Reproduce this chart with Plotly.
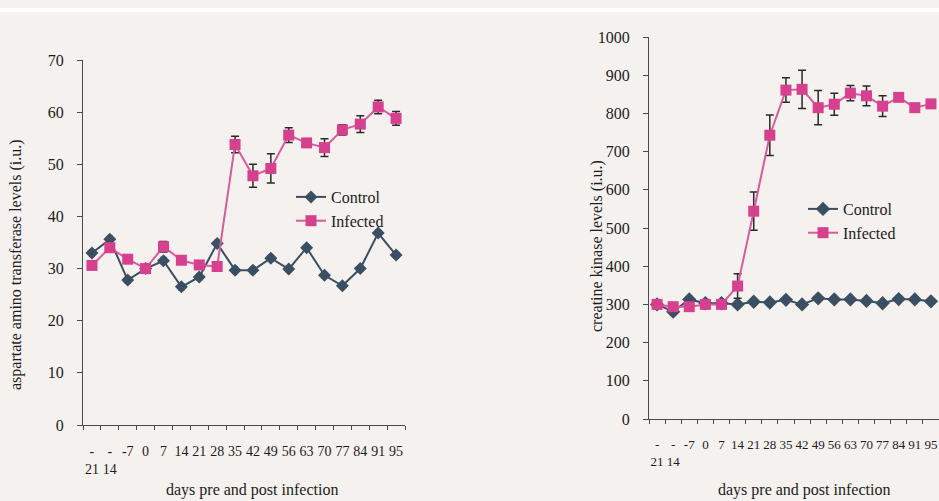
import plotly.graph_objects as go

# Sampling days relative to infection (negative values are pre-infection)
days = ["-<br>21", "-<br>14", "-7", "0", "7", "14", "21", "28", "35", "42",
        "49", "56", "63", "70", "77", "84", "91", "95"]

# Aspartate amino transferase (i.u.)
ast_control = [33.0, 35.6, 27.8, 30.0, 31.5, 26.5, 28.4, 34.8, 29.7, 29.7,
               32.0, 29.9, 34.0, 28.7, 26.7, 30.0, 36.8, 32.6]
ast_control_err = [0.6, 0.6, 0.6, 0.5, 0.6, 0.6, 0.6, 0.6, 0.6, 0.6,
                   0.5, 0.5, 0.5, 0.5, 0.5, 0.5, 0.6, 0.6]
ast_infected = [30.6, 34.0, 31.8, 30.0, 34.2, 31.6, 30.7, 30.4, 53.8, 47.8,
                49.2, 55.6, 54.1, 53.2, 56.6, 57.7, 61.0, 58.8]
ast_infected_err = [0.5, 0.5, 0.5, 0.5, 1.0, 0.5, 0.5, 0.5, 1.6, 2.2,
                    2.8, 1.4, 0.8, 1.7, 1.0, 1.6, 1.3, 1.3]

# Creatine kinase (i.u.)
ck_control = [300, 281, 313, 303, 303, 300, 307, 305, 312, 300,
              316, 313, 313, 309, 303, 314, 313, 308]
ck_infected = [300, 294, 294, 300, 300, 348, 544, 743, 861, 863,
               815, 824, 853, 846, 819, 842, 815, 825]
ck_infected_err = [5, 5, 5, 5, 5, 32, 50, 53, 32, 50,
                   45, 29, 20, 26, 27, 5, 5, 5]

W, H = 939, 501
BG = "#f4f1ee"
CONTROL = "#3b4f63"
INFECTED = "#d6408e"
INFECTED_LINE = "#d95a9e"
AXIS = "#4a4a4a"
TEXT = "#1c1c1c"
FONT = "Liberation Serif"

# The page sits 8px below the top of the window and is shown at 484/501 of
# its height, so vertical positions are given in window pixels and mapped back.
TOP_OFFSET = 8
V_SCALE = 484 / 501


def px(x):
    return x / W


def py(y):
    return 1 - ((y - TOP_OFFSET) / V_SCALE) / H


fig = go.Figure()

# Left panel: AST
fig.add_trace(go.Scatter(
    x=days, y=ast_control, name="Control", mode="lines+markers",
    line=dict(color=CONTROL, width=2),
    marker=dict(symbol="diamond", size=10, color=CONTROL),
    error_y=dict(type="data", array=ast_control_err, color="#2a2a2a", thickness=1.5, width=3),
    xaxis="x", yaxis="y", legend="legend"))
fig.add_trace(go.Scatter(
    x=days, y=ast_infected, name="Infected", mode="lines+markers",
    line=dict(color=INFECTED_LINE, width=2),
    marker=dict(symbol="square", size=11, color=INFECTED),
    error_y=dict(type="data", array=ast_infected_err, color="#2a2a2a", thickness=1.5, width=4),
    xaxis="x", yaxis="y", legend="legend"))

# Right panel: CK
fig.add_trace(go.Scatter(
    x=days, y=ck_control, name="Control", mode="lines+markers",
    line=dict(color=CONTROL, width=2),
    marker=dict(symbol="diamond", size=11, color=CONTROL),
    xaxis="x2", yaxis="y2", legend="legend2"))
fig.add_trace(go.Scatter(
    x=days, y=ck_infected, name="Infected", mode="lines+markers",
    line=dict(color=INFECTED_LINE, width=2),
    marker=dict(symbol="square", size=11, color=INFECTED),
    error_y=dict(type="data", array=ck_infected_err, color="#2a2a2a", thickness=1.5, width=4),
    xaxis="x2", yaxis="y2", legend="legend2"))

xcommon = dict(type="category", range=[-0.5, 17.5], showline=True, linecolor=AXIS,
               linewidth=1.3, ticks="outside", tickson="boundaries", ticklen=4,
               tickcolor=AXIS, showgrid=False, zeroline=False, fixedrange=True,
               tickmode="linear", tick0=0, dtick=1, tickangle=0,
               ticklabelstandoff=13)
ycommon = dict(showline=True, linecolor=AXIS, linewidth=1.3, ticks="outside",
               ticklen=5, tickcolor=AXIS, showgrid=False, zeroline=False,
               ticklabelstandoff=10, tickfont=dict(size=16, color=TEXT, family=FONT))

fig.update_layout(
    width=W, height=H,
    margin=dict(l=0, r=0, t=0, b=0),
    paper_bgcolor=BG, plot_bgcolor=BG,
    font=dict(family=FONT, color=TEXT, size=14),
    xaxis=dict(domain=[px(83), px(405)], anchor="y",
               tickfont=dict(size=14, color=TEXT, family=FONT), **xcommon),
    yaxis=dict(domain=[py(425), py(60)], anchor="x", range=[0, 70], dtick=10, **ycommon),
    xaxis2=dict(domain=[px(649), 1.0], anchor="y2",
                tickfont=dict(size=13, color=TEXT, family=FONT), **xcommon),
    yaxis2=dict(domain=[py(419), py(37)], anchor="x2", range=[0, 1000], dtick=100, **ycommon),
    legend=dict(x=px(291), y=py(180), xanchor="left", yanchor="top",
                bgcolor="rgba(0,0,0,0)", font=dict(size=16, family=FONT, color=TEXT),
                tracegroupgap=0, itemclick=False),
    legend2=dict(x=px(803), y=py(192), xanchor="left", yanchor="top",
                 bgcolor="rgba(0,0,0,0)", font=dict(size=16, family=FONT, color=TEXT),
                 tracegroupgap=0, itemclick=False),
    shapes=[dict(type="rect", xref="paper", yref="paper", x0=0, x1=1, y0=py(12), y1=1,
                 fillcolor="white", line=dict(width=0), layer="below")],
    annotations=[
        dict(text="aspartate amino transferase levels (i.u.)", textangle=-90,
             xref="paper", yref="paper", x=px(16), y=py(265), showarrow=False,
             xanchor="center", yanchor="middle",
             font=dict(size=16, family=FONT, color=TEXT)),
        dict(text="creatine kinase levels (i.u.)", textangle=-90,
             xref="paper", yref="paper", x=px(597), y=py(246), showarrow=False,
             xanchor="center", yanchor="middle",
             font=dict(size=16, family=FONT, color=TEXT)),
        dict(text="days pre and post infection", xref="paper", yref="paper",
             x=px(252), y=py(490), showarrow=False, xanchor="center", yanchor="middle",
             font=dict(size=16, family=FONT, color=TEXT)),
        dict(text="days pre and post infection", xref="paper", yref="paper",
             x=px(804), y=py(490), showarrow=False, xanchor="center", yanchor="middle",
             font=dict(size=16, family=FONT, color=TEXT)),
    ],
)

fig.write_html("out.html")
